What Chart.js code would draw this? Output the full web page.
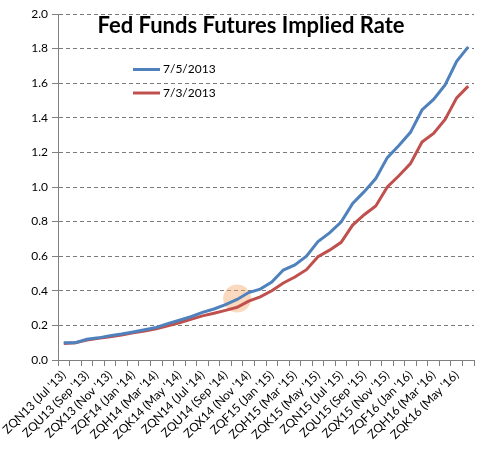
<!DOCTYPE html>
<html>
<head>
<meta charset="utf-8">
<script src="https://cdn.jsdelivr.net/npm/chart.js@4/dist/chart.umd.min.js"></script>
<style>
  html, body { margin: 0; padding: 0; background: #fff; overflow: hidden; }
  #wrap { width: 488px; height: 455px; }
</style>
</head>
<body>
<div id="wrap"><canvas id="rateChart" width="488" height="455"></canvas></div>
<script>
// Fed funds futures contracts, one per month (Jul '13 .. Jun '16)
const contractLabels = [
    "ZQN13 (Jul '13)", "ZQQ13 (Aug '13)", "ZQU13 (Sep '13)", "ZQV13 (Oct '13)", "ZQX13 (Nov '13)", "ZQZ13 (Dec '13)",
    "ZQF14 (Jan '14)", "ZQG14 (Feb '14)", "ZQH14 (Mar '14)", "ZQJ14 (Apr '14)", "ZQK14 (May '14)", "ZQM14 (Jun '14)",
    "ZQN14 (Jul '14)", "ZQQ14 (Aug '14)", "ZQU14 (Sep '14)", "ZQV14 (Oct '14)", "ZQX14 (Nov '14)", "ZQZ14 (Dec '14)",
    "ZQF15 (Jan '15)", "ZQG15 (Feb '15)", "ZQH15 (Mar '15)", "ZQJ15 (Apr '15)", "ZQK15 (May '15)", "ZQM15 (Jun '15)",
    "ZQN15 (Jul '15)", "ZQQ15 (Aug '15)", "ZQU15 (Sep '15)", "ZQV15 (Oct '15)", "ZQX15 (Nov '15)", "ZQZ15 (Dec '15)",
    "ZQF16 (Jan '16)", "ZQG16 (Feb '16)", "ZQH16 (Mar '16)", "ZQJ16 (Apr '16)", "ZQK16 (May '16)", "ZQM16 (Jun '16)"
];

// Implied rate (%) as of 7/5/2013
const rates0705 = [
    0.100, 0.100, 0.120, 0.128, 0.140, 0.150, 0.162, 0.175, 0.188, 0.210, 0.230, 0.250,
    0.275, 0.295, 0.320, 0.350, 0.390, 0.410, 0.450, 0.520, 0.550, 0.600, 0.685, 0.735,
    0.797, 0.905, 0.973, 1.049, 1.170, 1.240, 1.316, 1.445, 1.506, 1.590, 1.726, 1.810
];

// Implied rate (%) as of 7/3/2013
const rates0703 = [
    0.095, 0.100, 0.115, 0.125, 0.135, 0.145, 0.157, 0.168, 0.180, 0.197, 0.215, 0.235,
    0.255, 0.270, 0.287, 0.305, 0.340, 0.365, 0.400, 0.445, 0.480, 0.522, 0.597, 0.635,
    0.680, 0.780, 0.840, 0.890, 1.000, 1.065, 1.135, 1.260, 1.310, 1.390, 1.515, 1.583
];

const seriesNames = ["7/5/2013", "7/3/2013"];
const seriesColors = ["#4F81BD", "#C0504D"];

// Highlighted spot (shaded circle)
const highlightIndex = 15;
const highlightValue = 0.355;

const yTicks = { min: 0, max: 2, step: 0.2 };
const chartTitle = "Fed Funds Futures Implied Rate";

const highlightData = contractLabels.map((_, i) => (i === highlightIndex ? highlightValue : null));

Chart.defaults.font.family = "Lato, 'Liberation Sans', sans-serif";
Chart.defaults.color = "#000";

// Title and legend sit inside the plot area, like the Excel original
const overlayPlugin = {
    id: "overlay",
    afterDraw(chart) {
        const ctx = chart.ctx;
        const area = chart.chartArea;
        ctx.save();
        ctx.fillStyle = "#000";
        ctx.font = "bold 22px Lato, 'Liberation Sans', sans-serif";
        ctx.textAlign = "center";
        ctx.textBaseline = "alphabetic";
        ctx.fillText(chartTitle, 251, area.top + 19);

        ctx.font = "12px Lato, 'Liberation Sans', sans-serif";
        ctx.textAlign = "left";
        ctx.textBaseline = "middle";
        for (let i = 0; i < 2; i++) {
            const ds = chart.data.datasets[i];
            const y = area.top + 55.5 + i * 23.5;
            ctx.strokeStyle = ds.borderColor;
            ctx.lineWidth = 3;
            ctx.beginPath();
            ctx.moveTo(133, y);
            ctx.lineTo(160, y);
            ctx.stroke();
            ctx.fillText(ds.label, 163, y);
        }
        ctx.restore();
    }
};

const ctx = document.getElementById("rateChart").getContext("2d");
new Chart(ctx, {
    type: "line",
    data: {
        labels: contractLabels,
        datasets: [
            {
                label: seriesNames[0],
                data: rates0705,
                borderColor: seriesColors[0],
                borderWidth: 3,
                pointRadius: 0,
                tension: 0,
                fill: false
            },
            {
                label: seriesNames[1],
                data: rates0703,
                borderColor: seriesColors[1],
                borderWidth: 3,
                pointRadius: 0,
                tension: 0,
                fill: false
            },
            {
                label: "highlight",
                data: highlightData,
                showLine: false,
                pointRadius: 14,
                pointBorderWidth: 0,
                pointBackgroundColor: "rgba(245,165,100,0.42)",
                pointBorderColor: "rgba(0,0,0,0)"
            }
        ]
    },
    options: {
        responsive: false,
        animation: false,
        events: [],
        layout: { padding: { top: 10, right: 2, left: 0, bottom: 0 } },
        plugins: {
            legend: { display: false },
            title: { display: false },
            tooltip: { enabled: false }
        },
        scales: {
            x: {
                offset: true,
                grid: {
                    offset: true,
                    drawOnChartArea: false,
                    drawTicks: true,
                    tickLength: 6,
                    color: "#808080"
                },
                border: { color: "#808080", width: 1 },
                ticks: {
                    autoSkip: false,
                    minRotation: 45,
                    maxRotation: 45,
                    padding: 2,
                    font: { size: 12 },
                    callback: function (value, index) {
                        return index % 2 === 0 ? this.getLabelForValue(value) : "";
                    }
                },
                afterFit(scale) { scale.height = 95; }
            },
            y: {
                min: yTicks.min,
                max: yTicks.max,
                grid: {
                    color: (c) => (c.tick && c.tick.value === 0 ? "rgba(0,0,0,0)" : "#7a7a7a"),
                    tickColor: "#808080",
                    tickLength: 6,
                    tickBorderDash: [1, 0]
                },
                border: { color: "#808080", width: 1, dash: [4, 3] },
                ticks: {
                    stepSize: yTicks.step,
                    padding: 4,
                    font: { size: 12 },
                    callback: (v) => v.toFixed(1)
                },
                afterFit(scale) { scale.width = 58; }
            }
        }
    },
    plugins: [overlayPlugin]
});
</script>
</body>
</html>
